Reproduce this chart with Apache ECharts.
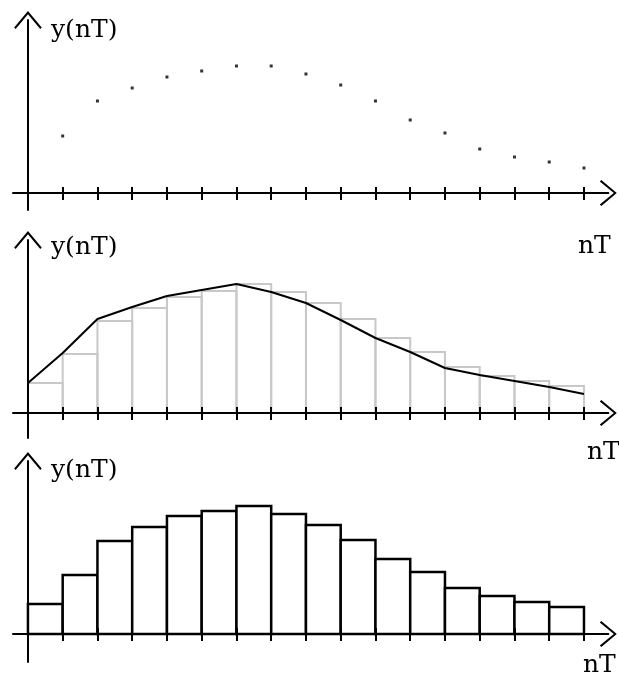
<!DOCTYPE html>
<html>
<head>
<meta charset="utf-8">
<script src="https://cdn.jsdelivr.net/npm/echarts@6/dist/echarts.min.js"></script>
<style>
  html, body { margin: 0; padding: 0; background: #fff; }
  #chart { width: 619px; height: 680px; }
</style>
</head>
<body>
<div id="chart"></div>
<script>
// sample index n for the tick marks
const tickN = [1, 2, 3, 4, 5, 6, 7, 8, 9, 10, 11, 12, 13, 14, 15, 16]
// top: sampled values y(nT), n = 1..16
const dotN = [1, 2, 3, 4, 5, 6, 7, 8, 9, 10, 11, 12, 13, 14, 15, 16]
const dotY = [57, 92, 105, 116, 122, 127, 127, 119, 108, 92, 73, 60, 44, 36, 31, 25]
// middle: continuous curve through n = 0..16 and the grey hold steps n = 0..15
const curveN = [0, 1, 2, 3, 4, 5, 6, 7, 8, 9, 10, 11, 12, 13, 14, 15, 16]
const curveY = [30, 60, 94, 106, 117, 123, 129, 121, 110, 93, 75, 61, 45, 38, 32, 26, 19]
const holdN = [0, 1, 2, 3, 4, 5, 6, 7, 8, 9, 10, 11, 12, 13, 14, 15]
const holdY = [30, 59, 92, 105, 116, 122, 129, 121, 110, 94, 75, 61, 46, 37, 32, 27]
// bottom: zero-order hold output, n = 0..15
const stepN = [0, 1, 2, 3, 4, 5, 6, 7, 8, 9, 10, 11, 12, 13, 14, 15]
const stepY = [30, 59, 93, 107, 118, 123, 128, 120, 109, 94, 75, 62, 46, 38, 32, 27]

const chevron = 'path://M13,0 L26,15.5 L24.6,17 L13,3 L1.4,17 L0,15.5 Z'
const grids = [
  { top: 20, height: 190, below: 17 },
  { top: 240, height: 198, below: 25 },
  { top: 461, height: 201, below: 28 }
]
const axisStyle = { color: '#000', width: 2 }

function zip(xs, ys) {
  return xs.map((x, i) => [x, ys[i]])
}

function stepItem(stroke, fill, width) {
  return function (params, api) {
    const n = api.value(0)
    const p0 = api.coord([n, 0])
    const p1 = api.coord([n + 1, api.value(1)])
    return {
      type: 'rect',
      shape: { x: p0[0], y: p1[1], width: p1[0] - p0[0], height: p0[1] - p1[1] },
      style: { fill: fill, stroke: stroke, lineWidth: width }
    }
  }
}

const xAxes = []
const yAxes = []
grids.forEach((g, i) => {
  // main axis: line, arrow and the lower half of each tick
  xAxes.push({
    gridIndex: i,
    type: 'value',
    min: -0.43,
    max: 16.7,
    z: 5,
    axisLine: { onZero: true, symbol: ['none', chevron], symbolSize: [26, 17], lineStyle: axisStyle },
    axisTick: { show: true, inside: false, length: 7, lineStyle: axisStyle, customValues: tickN },
    axisLabel: { show: false },
    splitLine: { show: false }
  })
  // upper half of each tick
  xAxes.push({
    gridIndex: i,
    type: 'value',
    min: -0.43,
    max: 16.7,
    position: 'bottom',
    offset: -g.below,
    z: 5,
    axisLine: { show: false, onZero: false },
    axisTick: { show: true, inside: true, length: 6, lineStyle: axisStyle, customValues: tickN },
    axisLabel: { show: false },
    splitLine: { show: false }
  })
  yAxes.push({
    gridIndex: i,
    type: 'value',
    min: -g.below,
    max: 173,
    z: 5,
    axisLine: { show: true, symbol: ['none', chevron], symbolSize: [28, 18], lineStyle: axisStyle },
    axisTick: { show: false },
    axisLabel: { show: false },
    splitLine: { show: false }
  })
})

const labelFont = '25px "DejaVu Serif"'
function label(text, x, y) {
  return { type: 'text', x: x, y: y, style: { text: text, font: labelFont, fill: '#000', verticalAlign: 'middle' } }
}

const myChart = echarts.init(document.getElementById('chart'))
myChart.setOption({
  backgroundColor: '#fff',
  animation: false,
  grid: grids.map(g => ({ left: 13, width: 595.3, top: g.top, height: g.height })),
  xAxis: xAxes,
  yAxis: yAxes,
  graphic: [
    label('y(nT)', 51, 30),
    label('y(nT)', 51, 247),
    label('y(nT)', 51, 470),
    label('nT', 578, 246),
    label('nT', 587, 452),
    label('nT', 583, 665)
  ],
  series: [
    {
      type: 'scatter',
      xAxisIndex: 0,
      yAxisIndex: 0,
      symbol: 'rect',
      symbolSize: 3,
      itemStyle: { color: '#000' },
      data: zip(dotN, dotY)
    },
    {
      type: 'custom',
      xAxisIndex: 2,
      yAxisIndex: 1,
      z: 1,
      renderItem: stepItem('#c8c8c8', 'none', 2),
      data: zip(holdN, holdY)
    },
    {
      type: 'line',
      xAxisIndex: 2,
      yAxisIndex: 1,
      z: 6,
      showSymbol: false,
      lineStyle: { color: '#000', width: 2 },
      data: zip(curveN, curveY)
    },
    {
      type: 'custom',
      xAxisIndex: 4,
      yAxisIndex: 2,
      z: 1,
      renderItem: stepItem('#000', '#fff', 2.5),
      data: zip(stepN, stepY)
    }
  ]
})
window.addEventListener('resize', () => {
  myChart.resize()
})
</script>
</body>
</html>
